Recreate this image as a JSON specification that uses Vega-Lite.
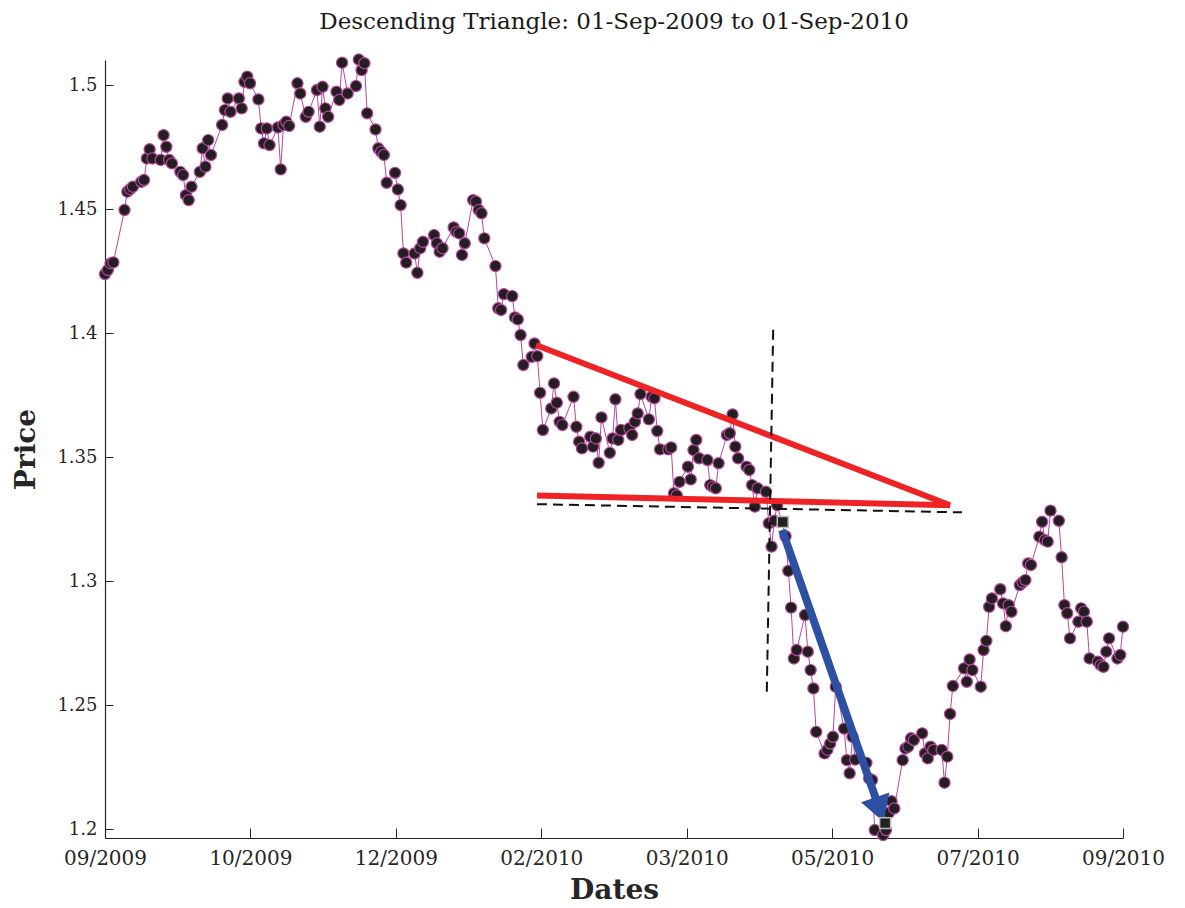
{
  "$schema": "https://vega.github.io/schema/vega-lite/v6.json",
  "width": 1018,
  "height": 778,
  "autosize": "none",
  "padding": {"left": 105, "top": 60, "right": 62, "bottom": 70},
  "background": "white",
  "config": {"view": {"stroke": null}, "font": "DejaVu Serif"},
  "title": {"text": "Descending Triangle: 01-Sep-2009 to 01-Sep-2010", "font": "DejaVu Serif", "fontSize": 23, "fontWeight": "normal", "color": "#1a1a1a", "anchor": "middle", "baseline": "alphabetic", "offset": 0},
  "datasets": {
    "prices": [
      {"date": "2009-09-01", "price": 1.4238}, {"date": "2009-09-02", "price": 1.4254}, {"date": "2009-09-03", "price": 1.4281}, {"date": "2009-09-04", "price": 1.4285},
      {"date": "2009-09-08", "price": 1.4496}, {"date": "2009-09-09", "price": 1.457}, {"date": "2009-09-10", "price": 1.458}, {"date": "2009-09-11", "price": 1.459},
      {"date": "2009-09-14", "price": 1.461}, {"date": "2009-09-15", "price": 1.4617}, {"date": "2009-09-16", "price": 1.4704}, {"date": "2009-09-17", "price": 1.4741}, {"date": "2009-09-18", "price": 1.4704},
      {"date": "2009-09-21", "price": 1.4698}, {"date": "2009-09-22", "price": 1.4798}, {"date": "2009-09-23", "price": 1.4751}, {"date": "2009-09-24", "price": 1.4698}, {"date": "2009-09-25", "price": 1.4684},
      {"date": "2009-09-28", "price": 1.465}, {"date": "2009-09-29", "price": 1.4637}, {"date": "2009-09-30", "price": 1.4556}, {"date": "2009-10-01", "price": 1.4536}, {"date": "2009-10-02", "price": 1.459},
      {"date": "2009-10-05", "price": 1.465}, {"date": "2009-10-06", "price": 1.4745}, {"date": "2009-10-07", "price": 1.4671}, {"date": "2009-10-08", "price": 1.4778}, {"date": "2009-10-09", "price": 1.4718},
      {"date": "2009-10-13", "price": 1.4839}, {"date": "2009-10-14", "price": 1.4899}, {"date": "2009-10-15", "price": 1.4946}, {"date": "2009-10-16", "price": 1.4892},
      {"date": "2009-10-19", "price": 1.4946}, {"date": "2009-10-20", "price": 1.4906}, {"date": "2009-10-21", "price": 1.5013}, {"date": "2009-10-22", "price": 1.5034}, {"date": "2009-10-23", "price": 1.5007},
      {"date": "2009-10-26", "price": 1.4942}, {"date": "2009-10-27", "price": 1.4825}, {"date": "2009-10-28", "price": 1.4765}, {"date": "2009-10-29", "price": 1.4825}, {"date": "2009-10-30", "price": 1.4758},
      {"date": "2009-11-02", "price": 1.4829}, {"date": "2009-11-03", "price": 1.466}, {"date": "2009-11-04", "price": 1.4839}, {"date": "2009-11-05", "price": 1.4852}, {"date": "2009-11-06", "price": 1.4835},
      {"date": "2009-11-09", "price": 1.5007}, {"date": "2009-11-10", "price": 1.4966}, {"date": "2009-11-12", "price": 1.4872}, {"date": "2009-11-13", "price": 1.4892},
      {"date": "2009-11-16", "price": 1.498}, {"date": "2009-11-17", "price": 1.4832}, {"date": "2009-11-18", "price": 1.4993}, {"date": "2009-11-19", "price": 1.4906}, {"date": "2009-11-20", "price": 1.4872},
      {"date": "2009-11-23", "price": 1.4973}, {"date": "2009-11-24", "price": 1.494}, {"date": "2009-11-25", "price": 1.509}, {"date": "2009-11-27", "price": 1.4966},
      {"date": "2009-11-30", "price": 1.4996}, {"date": "2009-12-01", "price": 1.5103}, {"date": "2009-12-02", "price": 1.506}, {"date": "2009-12-03", "price": 1.5088}, {"date": "2009-12-04", "price": 1.4886},
      {"date": "2009-12-07", "price": 1.4821}, {"date": "2009-12-08", "price": 1.4745}, {"date": "2009-12-09", "price": 1.4731}, {"date": "2009-12-10", "price": 1.4718}, {"date": "2009-12-11", "price": 1.4606},
      {"date": "2009-12-14", "price": 1.4646}, {"date": "2009-12-15", "price": 1.4579}, {"date": "2009-12-16", "price": 1.4516}, {"date": "2009-12-17", "price": 1.4321}, {"date": "2009-12-18", "price": 1.4284},
      {"date": "2009-12-21", "price": 1.4321}, {"date": "2009-12-22", "price": 1.4243}, {"date": "2009-12-23", "price": 1.4342}, {"date": "2009-12-24", "price": 1.4368},
      {"date": "2009-12-28", "price": 1.4395}, {"date": "2009-12-29", "price": 1.4362}, {"date": "2009-12-30", "price": 1.4328}, {"date": "2009-12-31", "price": 1.4342},
      {"date": "2010-01-04", "price": 1.4426}, {"date": "2010-01-05", "price": 1.4408}, {"date": "2010-01-06", "price": 1.4402}, {"date": "2010-01-07", "price": 1.4315}, {"date": "2010-01-08", "price": 1.4362},
      {"date": "2010-01-11", "price": 1.4536}, {"date": "2010-01-12", "price": 1.453}, {"date": "2010-01-13", "price": 1.4496}, {"date": "2010-01-14", "price": 1.4483}, {"date": "2010-01-15", "price": 1.4382},
      {"date": "2010-01-19", "price": 1.427}, {"date": "2010-01-20", "price": 1.41}, {"date": "2010-01-21", "price": 1.4093}, {"date": "2010-01-22", "price": 1.4157},
      {"date": "2010-01-25", "price": 1.4149}, {"date": "2010-01-26", "price": 1.4063}, {"date": "2010-01-27", "price": 1.4055}, {"date": "2010-01-28", "price": 1.3992}, {"date": "2010-01-29", "price": 1.3871},
      {"date": "2010-02-01", "price": 1.3904}, {"date": "2010-02-02", "price": 1.3958}, {"date": "2010-02-03", "price": 1.3907}, {"date": "2010-02-04", "price": 1.3759}, {"date": "2010-02-05", "price": 1.3609},
      {"date": "2010-02-08", "price": 1.3696}, {"date": "2010-02-09", "price": 1.3797}, {"date": "2010-02-10", "price": 1.3719}, {"date": "2010-02-11", "price": 1.3642}, {"date": "2010-02-12", "price": 1.3629},
      {"date": "2010-02-16", "price": 1.3743}, {"date": "2010-02-17", "price": 1.3622}, {"date": "2010-02-18", "price": 1.3562}, {"date": "2010-02-19", "price": 1.3535},
      {"date": "2010-02-22", "price": 1.3582}, {"date": "2010-02-23", "price": 1.3542}, {"date": "2010-02-24", "price": 1.3575}, {"date": "2010-02-25", "price": 1.3477}, {"date": "2010-02-26", "price": 1.366},
      {"date": "2010-03-01", "price": 1.3517}, {"date": "2010-03-02", "price": 1.3575}, {"date": "2010-03-03", "price": 1.3733}, {"date": "2010-03-04", "price": 1.3569}, {"date": "2010-03-05", "price": 1.3609},
      {"date": "2010-03-08", "price": 1.3616}, {"date": "2010-03-09", "price": 1.3589}, {"date": "2010-03-10", "price": 1.3642}, {"date": "2010-03-11", "price": 1.3676}, {"date": "2010-03-12", "price": 1.3754},
      {"date": "2010-03-15", "price": 1.3652}, {"date": "2010-03-16", "price": 1.3743}, {"date": "2010-03-17", "price": 1.3737}, {"date": "2010-03-18", "price": 1.3605}, {"date": "2010-03-19", "price": 1.3531},
      {"date": "2010-03-22", "price": 1.3531}, {"date": "2010-03-23", "price": 1.3539}, {"date": "2010-03-24", "price": 1.3354}, {"date": "2010-03-25", "price": 1.3345}, {"date": "2010-03-26", "price": 1.34},
      {"date": "2010-03-29", "price": 1.3461}, {"date": "2010-03-30", "price": 1.341}, {"date": "2010-03-31", "price": 1.3528}, {"date": "2010-04-01", "price": 1.3569}, {"date": "2010-04-02", "price": 1.3495},
      {"date": "2010-04-05", "price": 1.3488}, {"date": "2010-04-06", "price": 1.3387}, {"date": "2010-04-07", "price": 1.338}, {"date": "2010-04-08", "price": 1.3374}, {"date": "2010-04-09", "price": 1.3475},
      {"date": "2010-04-12", "price": 1.3589}, {"date": "2010-04-13", "price": 1.3596}, {"date": "2010-04-14", "price": 1.3672}, {"date": "2010-04-15", "price": 1.3542}, {"date": "2010-04-16", "price": 1.3495},
      {"date": "2010-04-19", "price": 1.3461}, {"date": "2010-04-20", "price": 1.3448}, {"date": "2010-04-21", "price": 1.3387}, {"date": "2010-04-22", "price": 1.33}, {"date": "2010-04-23", "price": 1.3374},
      {"date": "2010-04-26", "price": 1.336}, {"date": "2010-04-27", "price": 1.3233}, {"date": "2010-04-28", "price": 1.3139}, {"date": "2010-04-29", "price": 1.3243}, {"date": "2010-04-30", "price": 1.3306},
      {"date": "2010-05-03", "price": 1.3181}, {"date": "2010-05-04", "price": 1.3041}, {"date": "2010-05-05", "price": 1.2893}, {"date": "2010-05-06", "price": 1.2688}, {"date": "2010-05-07", "price": 1.2722},
      {"date": "2010-05-10", "price": 1.2863}, {"date": "2010-05-11", "price": 1.2715}, {"date": "2010-05-12", "price": 1.2641}, {"date": "2010-05-13", "price": 1.2567}, {"date": "2010-05-14", "price": 1.2392},
      {"date": "2010-05-17", "price": 1.2305}, {"date": "2010-05-18", "price": 1.232}, {"date": "2010-05-19", "price": 1.2345}, {"date": "2010-05-20", "price": 1.2372}, {"date": "2010-05-21", "price": 1.2574},
      {"date": "2010-05-24", "price": 1.2405}, {"date": "2010-05-25", "price": 1.2278}, {"date": "2010-05-26", "price": 1.2225}, {"date": "2010-05-27", "price": 1.2372}, {"date": "2010-05-28", "price": 1.228},
      {"date": "2010-06-01", "price": 1.2267}, {"date": "2010-06-02", "price": 1.2204}, {"date": "2010-06-03", "price": 1.2198}, {"date": "2010-06-04", "price": 1.1996},
      {"date": "2010-06-07", "price": 1.1976}, {"date": "2010-06-08", "price": 1.1996}, {"date": "2010-06-09", "price": 1.2065}, {"date": "2010-06-10", "price": 1.2112}, {"date": "2010-06-11", "price": 1.2083},
      {"date": "2010-06-14", "price": 1.2278}, {"date": "2010-06-15", "price": 1.2325}, {"date": "2010-06-16", "price": 1.2332}, {"date": "2010-06-17", "price": 1.2366}, {"date": "2010-06-18", "price": 1.2359},
      {"date": "2010-06-21", "price": 1.2386}, {"date": "2010-06-22", "price": 1.2305}, {"date": "2010-06-23", "price": 1.2285}, {"date": "2010-06-24", "price": 1.2332}, {"date": "2010-06-25", "price": 1.2319},
      {"date": "2010-06-28", "price": 1.2319}, {"date": "2010-06-29", "price": 1.2187}, {"date": "2010-06-30", "price": 1.2292}, {"date": "2010-07-01", "price": 1.2464}, {"date": "2010-07-02", "price": 1.2577},
      {"date": "2010-07-06", "price": 1.2648}, {"date": "2010-07-07", "price": 1.2594}, {"date": "2010-07-08", "price": 1.2684}, {"date": "2010-07-09", "price": 1.2641},
      {"date": "2010-07-12", "price": 1.2574}, {"date": "2010-07-13", "price": 1.2722}, {"date": "2010-07-14", "price": 1.2759}, {"date": "2010-07-15", "price": 1.2896}, {"date": "2010-07-16", "price": 1.293},
      {"date": "2010-07-19", "price": 1.2967}, {"date": "2010-07-20", "price": 1.291}, {"date": "2010-07-21", "price": 1.2818}, {"date": "2010-07-22", "price": 1.2903}, {"date": "2010-07-23", "price": 1.2876},
      {"date": "2010-07-26", "price": 1.2984}, {"date": "2010-07-27", "price": 1.2995}, {"date": "2010-07-28", "price": 1.3004}, {"date": "2010-07-29", "price": 1.3071}, {"date": "2010-07-30", "price": 1.3065},
      {"date": "2010-08-02", "price": 1.3179}, {"date": "2010-08-03", "price": 1.3239}, {"date": "2010-08-04", "price": 1.3165}, {"date": "2010-08-05", "price": 1.3159}, {"date": "2010-08-06", "price": 1.3284},
      {"date": "2010-08-09", "price": 1.3243}, {"date": "2010-08-10", "price": 1.3096}, {"date": "2010-08-11", "price": 1.2903}, {"date": "2010-08-12", "price": 1.287}, {"date": "2010-08-13", "price": 1.2769},
      {"date": "2010-08-16", "price": 1.2836}, {"date": "2010-08-17", "price": 1.289}, {"date": "2010-08-18", "price": 1.2876}, {"date": "2010-08-19", "price": 1.2836}, {"date": "2010-08-20", "price": 1.2688},
      {"date": "2010-08-23", "price": 1.2675}, {"date": "2010-08-24", "price": 1.2661}, {"date": "2010-08-25", "price": 1.2654}, {"date": "2010-08-26", "price": 1.2715}, {"date": "2010-08-27", "price": 1.2769},
      {"date": "2010-08-30", "price": 1.2688}, {"date": "2010-08-31", "price": 1.2702}, {"date": "2010-09-01", "price": 1.2816}
    ],
    "redlines": [
      {"seg": "upper", "date": "2010-02-02T12:00Z", "price": 1.3952}, {"seg": "upper", "date": "2010-07-01T00:00Z", "price": 1.3306},
      {"seg": "lower", "date": "2010-02-02T21:00Z", "price": 1.3345}, {"seg": "lower", "date": "2010-07-01T00:00Z", "price": 1.3306}
    ],
    "dashed": [
      {"seg": "h", "date": "2010-02-02T21:00Z", "price": 1.331}, {"seg": "h", "date": "2010-07-05T07:00Z", "price": 1.3277},
      {"seg": "v", "date": "2010-04-28T14:00Z", "price": 1.4019}, {"seg": "v", "date": "2010-04-26T07:00Z", "price": 1.2554}
    ],
    "arrow": [
      {"date": "2010-05-01T19:00Z", "price": 1.3206}, {"date": "2010-06-04T20:00Z", "price": 1.2108}
    ],
    "arrowhead": [
      {"date": "2010-06-05T16:00Z", "price": 1.2078}
    ],
    "squares": [
      {"date": "2010-05-02T00:00Z", "price": 1.3238}, {"date": "2010-06-07T17:00Z", "price": 1.2024}
    ]
  },
  "encoding": {
    "x": {
      "field": "date", "type": "temporal",
      "scale": {"type": "utc", "domain": [{"year": 2009, "month": 9, "date": 1, "utc": true}, {"year": 2010, "month": 9, "date": 1, "utc": true}]},
      "axis": {
        "values": [1251763200000, 1256268342857, 1260773485714, 1265278628571, 1269783771429, 1274288914286, 1278794057143, 1283299200000],
        "labelExpr": "utcFormat(datum.value, '%m/%Y')", "labelFlush": false, "labelOverlap": false, "labelBound": false,
        "grid": false, "tickSize": -10, "labelPadding": 20, "tickColor": "#262626", "domainColor": "#262626", "tickWidth": 1, "domainWidth": 1.2,
        "labelFont": "DejaVu Serif", "labelFontSize": 20, "labelColor": "#262626", "labelBaseline": "top",
        "title": "Dates", "titleFont": "DejaVu Serif", "titleFontSize": 28, "titleFontWeight": "bold", "titleColor": "#262626", "titleBaseline": "middle", "titleX": 509, "titleY": 52
      }
    },
    "y": {
      "field": "price", "type": "quantitative",
      "scale": {"domain": [1.1964, 1.5101], "nice": false, "zero": false},
      "axis": {
        "values": [1.2, 1.25, 1.3, 1.35, 1.4, 1.45, 1.5], "format": "~g", "labelFlush": false, "labelOverlap": false,
        "grid": false, "tickSize": -8, "labelPadding": 16, "tickColor": "#262626", "domainColor": "#262626", "tickWidth": 1, "domainWidth": 1.2,
        "labelFont": "DejaVu Serif", "labelFontSize": 18, "labelColor": "#262626",
        "title": "Price", "titleFont": "DejaVu Serif", "titleFontSize": 28, "titleFontWeight": "bold", "titleColor": "#262626", "titleAngle": -90, "titleBaseline": "middle", "titleAlign": "center", "titleX": -79, "titleY": 389
      }
    }
  },
  "layer": [
    {"data": {"name": "prices"}, "mark": {"type": "line", "color": "#B5479F", "strokeWidth": 1}},
    {"data": {"name": "prices"}, "mark": {"type": "point", "shape": "circle", "filled": true, "size": 125, "fill": "#231F20", "stroke": "#B5479F", "strokeWidth": 1.2, "opacity": 1}},
    {"data": {"name": "redlines"}, "mark": {"type": "line", "color": "#EE2326", "strokeWidth": 6, "strokeCap": "butt"}, "encoding": {"detail": {"field": "seg"}}},
    {"data": {"name": "dashed"}, "mark": {"type": "line", "color": "#111111", "strokeWidth": 2, "strokeDash": [10, 6]}, "encoding": {"detail": {"field": "seg"}}},
    {"data": {"name": "arrow"}, "mark": {"type": "line", "color": "#2E50A2", "strokeWidth": 8, "strokeCap": "butt"}},
    {"data": {"name": "arrowhead"}, "mark": {"type": "point", "shape": "triangle-up", "filled": true, "size": 900, "angle": 161, "fill": "#2E50A2", "opacity": 1}},
    {"data": {"name": "squares"}, "mark": {"type": "point", "shape": "square", "filled": true, "size": 120, "fill": "#222222", "stroke": "#BBBBBB", "strokeWidth": 1.5, "opacity": 1}}
  ]
}
